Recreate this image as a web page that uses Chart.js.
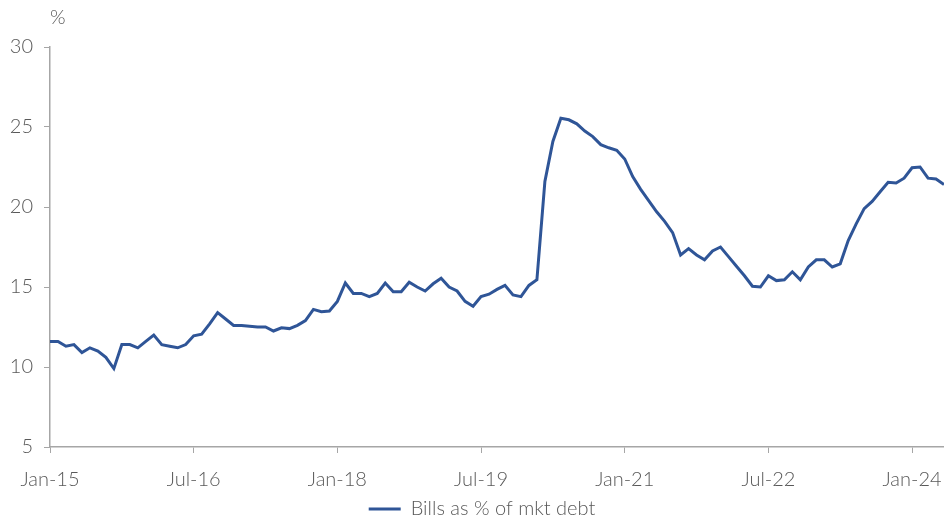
<!DOCTYPE html>
<html>
<head>
<meta charset="utf-8">
<script src="https://cdn.jsdelivr.net/npm/chart.js@4/dist/chart.umd.min.js"></script>
<style>
  html, body { margin: 0; padding: 0; background: #ffffff; }
  #wrap { position: relative; width: 944px; height: 520px; }
</style>
</head>
<body>
<div id="wrap"><canvas id="c" width="944" height="520"></canvas></div>
<script>
const months = [
  'Jan-15','Feb-15','Mar-15','Apr-15','May-15','Jun-15','Jul-15','Aug-15','Sep-15','Oct-15','Nov-15','Dec-15',
  'Jan-16','Feb-16','Mar-16','Apr-16','May-16','Jun-16','Jul-16','Aug-16','Sep-16','Oct-16','Nov-16','Dec-16',
  'Jan-17','Feb-17','Mar-17','Apr-17','May-17','Jun-17','Jul-17','Aug-17','Sep-17','Oct-17','Nov-17','Dec-17',
  'Jan-18','Feb-18','Mar-18','Apr-18','May-18','Jun-18','Jul-18','Aug-18','Sep-18','Oct-18','Nov-18','Dec-18',
  'Jan-19','Feb-19','Mar-19','Apr-19','May-19','Jun-19','Jul-19','Aug-19','Sep-19','Oct-19','Nov-19','Dec-19',
  'Jan-20','Feb-20','Mar-20','Apr-20','May-20','Jun-20','Jul-20','Aug-20','Sep-20','Oct-20','Nov-20','Dec-20',
  'Jan-21','Feb-21','Mar-21','Apr-21','May-21','Jun-21','Jul-21','Aug-21','Sep-21','Oct-21','Nov-21','Dec-21',
  'Jan-22','Feb-22','Mar-22','Apr-22','May-22','Jun-22','Jul-22','Aug-22','Sep-22','Oct-22','Nov-22','Dec-22',
  'Jan-23','Feb-23','Mar-23','Apr-23','May-23','Jun-23','Jul-23','Aug-23','Sep-23','Oct-23','Nov-23','Dec-23',
  'Jan-24','Feb-24','Mar-24','Apr-24','May-24'
];

const billsShare = [
  11.6, 11.6, 11.3, 11.4, 10.9, 11.2, 11.0, 10.6, 9.9, 11.4, 11.4, 11.2,
  11.6, 12.0, 11.4, 11.3, 11.2, 11.4, 11.95, 12.05, 12.7, 13.4, 13.0, 12.6,
  12.6, 12.55, 12.5, 12.5, 12.25, 12.45, 12.4, 12.6, 12.9, 13.6, 13.45, 13.5,
  14.1, 15.25, 14.6, 14.6, 14.4, 14.6, 15.25, 14.7, 14.7, 15.3, 15.0, 14.75,
  15.2, 15.55, 15.0, 14.75, 14.1, 13.8, 14.4, 14.55, 14.85, 15.1, 14.5, 14.4,
  15.1, 15.45, 21.6, 24.1, 25.55, 25.45, 25.2, 24.75, 24.4, 23.9, 23.7, 23.55,
  23.0, 21.9, 21.1, 20.4, 19.7, 19.1, 18.4, 17.0, 17.4, 17.0, 16.7, 17.25,
  17.5, 16.9, 16.3, 15.7, 15.05, 15.0, 15.7, 15.4, 15.45, 15.95, 15.45, 16.25,
  16.7, 16.7, 16.25, 16.45, 17.9, 18.95, 19.9, 20.35, 20.95, 21.55, 21.5, 21.8,
  22.45, 22.5, 21.8, 21.75, 21.4
];

const xTickLabels = ['Jan-15','Jul-16','Jan-18','Jul-19','Jan-21','Jul-22','Jan-24'];
const yTicks = [5, 10, 15, 20, 25, 30];
const seriesName = 'Bills as % of mkt debt';
const unitLabel = '%';

const LINE = '#2f5597';
const AXIS = '#a6a6a6';
const TEXT = '#595959';
const FONT = "Lato, 'Open Sans', sans-serif";

const unitPlugin = {
  id: 'unitLabel',
  afterLayout(chart) {
    // centre the legend over the same span as the reference (slightly right of canvas centre)
    if (chart.legend) { chart.legend.left += 20; }
  },
  afterDraw(chart) {
    const ctx = chart.ctx;
    ctx.save();
    ctx.font = '300 20px ' + FONT;
    ctx.fillStyle = TEXT;
    ctx.textAlign = 'left';
    ctx.textBaseline = 'middle';
    ctx.fillText(unitLabel, chart.chartArea.left, 18);
    ctx.restore();
  }
};

new Chart(document.getElementById('c'), {
  type: 'line',
  data: {
    labels: months,
    datasets: [{
      label: seriesName,
      data: billsShare,
      borderColor: LINE,
      backgroundColor: LINE,
      borderWidth: 3,
      pointRadius: 0,
      tension: 0,
      fill: false
    }]
  },
  options: {
    responsive: false,
    animation: false,
    devicePixelRatio: 1,
    layout: { padding: { top: 47, right: 0, left: 0, bottom: -9 } },
    plugins: {
      legend: {
        display: true,
        position: 'bottom',
        labels: {
          usePointStyle: true,
          pointStyle: 'line',
          pointStyleWidth: 32,
          boxHeight: 20,
          color: TEXT,
          font: { family: FONT, size: 20, weight: '300' },
          padding: 2
        }
      },
      tooltip: { enabled: false }
    },
    scales: {
      x: {
        type: 'category',
        offset: false,
        afterFit: (scale) => { scale.height = 50; scale.paddingRight = 0; scale.paddingLeft = 0; },
        grid: {
          drawOnChartArea: false,
          drawTicks: true,
          tickLength: 6,
          tickColor: (c) => (xTickLabels.includes(months[c.index]) ? AXIS : 'rgba(0,0,0,0)')
        },
        border: { display: true, color: AXIS, width: 1.5 },
        ticks: {
          autoSkip: false,
          maxRotation: 0,
          minRotation: 0,
          padding: 15,
          color: TEXT,
          font: { family: FONT, size: 20, weight: '300' },
          callback: function (value, index) {
            const l = months[index];
            return xTickLabels.includes(l) ? l : '';
          }
        }
      },
      y: {
        min: 5,
        max: 30,
        afterBuildTicks: (scale) => { scale.ticks = yTicks.map(v => ({ value: v })); },
        afterFit: (scale) => { scale.width = 50; },
        grid: {
          drawOnChartArea: false,
          drawTicks: true,
          tickLength: 6,
          tickColor: AXIS
        },
        border: { display: true, color: AXIS, width: 1.5 },
        ticks: {
          padding: 11,
          color: TEXT,
          font: { family: FONT, size: 20, weight: '300' }
        }
      }
    }
  },
  plugins: [unitPlugin]
});
</script>
</body>
</html>
